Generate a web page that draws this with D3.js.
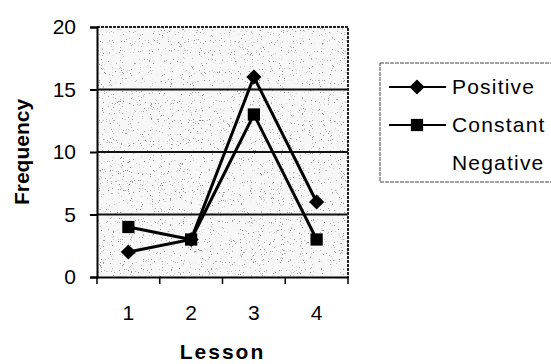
<!DOCTYPE html>
<html>
<head>
<meta charset="utf-8">
<script src="https://cdn.jsdelivr.net/npm/d3@7"></script>
<style>
  body { margin: 0; background: #fff; }
  svg { display: block; font-family: "Liberation Sans", Arial, sans-serif; }
</style>
</head>
<body>
<svg id="chart" width="551" height="364"></svg>
<script>
// values
var lessons = ["1", "2", "3", "4"];
var positive = [2, 3, 16, 6];
var constant = [4, 3, 13, 3];
var negative = [];   // nothing drawn for this one
var yTicks = [0, 5, 10, 15, 20];
var seriesNames = ["Positive", "Constant", "Negative"];

var svg = d3.select("#chart"),
    margin = {left: 97, top: 27},
    width = 251,
    height = 250;

var defs = svg.append("defs");

// speckled grey background like the scan
var f = defs.append("filter")
    .attr("id", "speckle")
    .attr("x", 0).attr("y", 0).attr("width", 1).attr("height", 1);
f.append("feTurbulence")
    .attr("type", "fractalNoise")
    .attr("baseFrequency", 0.9)
    .attr("numOctaves", 2)
    .attr("seed", 7)
    .attr("result", "noise");
f.append("feColorMatrix")
    .attr("in", "noise")
    .attr("type", "matrix")
    .attr("values", "0 0 0 0 0.3  0 0 0 0 0.3  0 0 0 0 0.3  11 0 0 0 -7.3");

var g = svg.append("g")
    .attr("transform", "translate(" + margin.left + "," + margin.top + ")");

var x = d3.scaleBand()
    .domain(lessons)
    .range([0, width]);

var y = d3.scaleLinear()
    .domain([0, 20])
    .range([height, 0]);

g.append("rect")
    .attr("width", width)
    .attr("height", height)
    .attr("fill", "#f7f7f7");
g.append("rect")
    .attr("width", width)
    .attr("height", height)
    .attr("fill", "#fff")
    .attr("filter", "url(#speckle)");

// gridlines
g.selectAll(".grid")
    .data(yTicks.filter(function(d) { return d > 0 && d < 20; }))
    .enter()
    .append("line")
    .attr("x1", 0)
    .attr("x2", width)
    .attr("y1", function(d) { return y(d); })
    .attr("y2", function(d) { return y(d); })
    .attr("stroke", "#111")
    .attr("stroke-width", 2);

// top + right border, a bit dotty
g.append("path")
    .attr("d", "M0,0H" + width + "V" + height)
    .attr("fill", "none")
    .attr("stroke", "#222")
    .attr("stroke-width", 2)
    .style("stroke-dasharray", "3,1");

// y axis
var yAxis = g.append("g")
    .call(d3.axisLeft(y).tickValues(yTicks).tickSize(7).tickPadding(14));
yAxis.select(".domain").attr("stroke", "#000").attr("stroke-width", 2);
yAxis.selectAll(".tick line").attr("stroke", "#000").attr("stroke-width", 2);
yAxis.selectAll("text")
    .attr("fill", "#000")
    .style("font-size", "21px");

// x axis: labels in the middle of each lesson, ticks between them
var xAxis = g.append("g")
    .attr("transform", "translate(0," + height + ")")
    .call(d3.axisBottom(x).tickSize(0).tickPadding(28));
xAxis.select(".domain").attr("stroke", "#000").attr("stroke-width", 2);
xAxis.selectAll("text")
    .attr("fill", "#000")
    .style("font-size", "21px");

var edges = lessons.map(function(d) { return x(d); }).concat([width]);
xAxis.selectAll(".edge")
    .data(edges)
    .enter()
    .append("line")
    .attr("x1", function(d) { return d; })
    .attr("x2", function(d) { return d; })
    .attr("y1", 0)
    .attr("y2", 7)
    .attr("stroke", "#000")
    .attr("stroke-width", 1.5);

// lines + markers
var line = d3.line()
    .defined(function(d) { return d != null; })
    .x(function(d, i) { return x(lessons[i]) + x.bandwidth() / 2; })
    .y(function(d) { return y(d); });

var diamond = d3.symbol().type(d3.symbolSquare).size(115);
var square = d3.symbol().type(d3.symbolSquare).size(150);

var series = [
    {name: seriesNames[0], values: positive, marker: "diamond"},
    {name: seriesNames[1], values: constant, marker: "square"},
    {name: seriesNames[2], values: negative, marker: null}
];

series.forEach(function(s) {
    if (!s.values.length) return;
    g.append("path")
        .datum(s.values)
        .attr("fill", "none")
        .attr("stroke", "#000")
        .attr("stroke-width", 3)
        .attr("d", line);

    g.selectAll(".pt-" + s.marker)
        .data(s.values)
        .enter()
        .append("path")
        .attr("d", s.marker == "diamond" ? diamond : square)
        .attr("transform", function(d, i) {
            var px = x(lessons[i]) + x.bandwidth() / 2;
            return "translate(" + px + "," + y(d) + ")" + (s.marker == "diamond" ? " rotate(45)" : "");
        })
        .attr("fill", "#000");
});

// axis titles
svg.append("text")
    .attr("transform", "translate(29,152) rotate(-90)")
    .attr("text-anchor", "middle")
    .style("font-size", "21px")
    .style("font-weight", "bold")
    .text("Frequency");

svg.append("text")
    .attr("x", margin.left + width / 2)
    .attr("y", 359)
    .attr("text-anchor", "middle")
    .style("font-size", "21px")
    .style("font-weight", "bold")
    .style("letter-spacing", "2px")
    .text("Lesson");

// legend
var legend = svg.append("g")
    .attr("transform", "translate(380,63)");

legend.append("rect")
    .attr("width", 200)
    .attr("height", 119)
    .attr("fill", "#fff")
    .attr("stroke", "#444")
    .attr("stroke-width", 1)
    .style("stroke-dasharray", "4,1");

var item = legend.selectAll(".item")
    .data(series)
    .enter()
    .append("g")
    .attr("transform", function(d, i) { return "translate(0," + (24 + i * 38) + ")"; });

item.filter(function(d) { return d.values.length; })
    .append("line")
    .attr("x1", 9)
    .attr("x2", 66)
    .attr("stroke", "#000")
    .attr("stroke-width", 2);

item.filter(function(d) { return d.values.length; })
    .append("path")
    .attr("d", function(d) { return d.marker == "diamond" ? diamond() : square(); })
    .attr("transform", function(d) { return "translate(37,0)" + (d.marker == "diamond" ? " rotate(45)" : ""); })
    .attr("fill", "#000");

item.append("text")
    .attr("x", 72)
    .attr("dy", "0.35em")
    .style("font-size", "21px")
    .style("letter-spacing", "1.2px")
    .text(function(d) { return d.name; });
</script>
</body>
</html>
